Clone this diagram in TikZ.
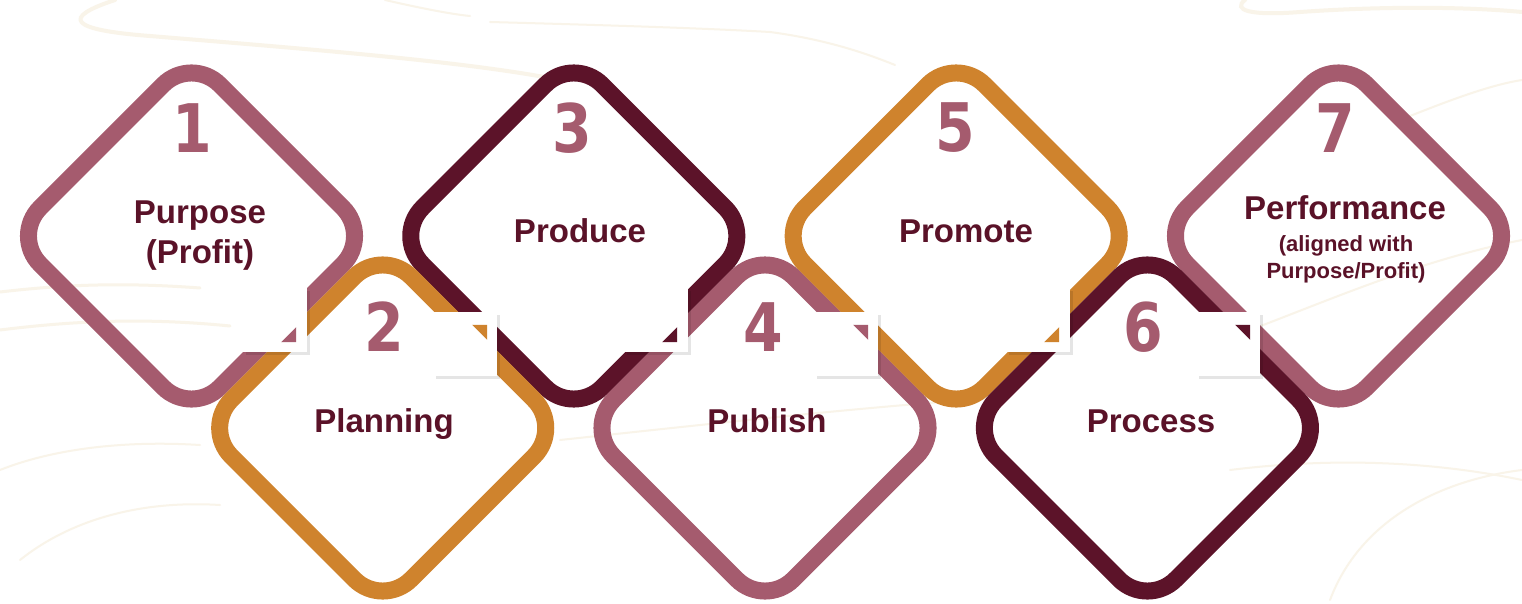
\documentclass[tikz,border=0pt]{standalone}
\usepackage{fontspec}
\setmainfont{Liberation Sans}
\newfontfamily\numfont{DejaVu Sans}
\usetikzlibrary{shadows}
\definecolor{mauve}{RGB}{165,91,110}
\definecolor{maroon}{RGB}{92,19,41}
\definecolor{ochre}{RGB}{207,131,45}
\definecolor{txt}{RGB}{90,18,40}
\definecolor{cream}{RGB}{249,244,233}
\tikzset{
  dia/.style={draw=#1, shape=rectangle, line width=17pt, rounded corners=40pt,
    minimum width=254pt, minimum height=254pt, rotate=45, inner sep=0pt, outer sep=0pt},
  numtxt/.style={font=\numfont\bfseries\fontsize{67}{67}\selectfont, text=mauve, inner sep=0pt},
  lab/.style={font=\bfseries\fontsize{33}{40}\selectfont, text=txt, align=center, inner sep=0pt},
  sublab/.style={font=\bfseries\fontsize{22}{27}\selectfont, text=txt, align=center, inner sep=0pt},
  fold/.style={fill=white, shape=rectangle, minimum size=64pt, inner sep=0pt,
    drop shadow={shadow xshift=2.5pt, shadow yshift=-2.5pt, opacity=0.10, fill=black}},
  swirl/.style={draw=cream, line width=3pt, line cap=round}
}
\newcommand{\dg}[1]{\scalebox{0.85}[1]{#1}}
\begin{document}
\begin{tikzpicture}[x=1pt,y=-1pt]
\useasboundingbox (0,0) rectangle (1522,604);
\fill[white] (0,0) rectangle (1522,604);
% faint background swirls
\draw[swirl, line width=4pt] (115,0) .. controls (60,18) and (70,30) .. (150,36) .. controls (320,50) and (470,62) .. (560,80);
\draw[swirl, line width=2pt] (385,0) .. controls (420,8) and (450,14) .. (470,16);
\draw[swirl, line width=2pt] (490,22) .. controls (600,25) and (700,28) .. (770,32) .. controls (830,40) and (870,55) .. (895,65);
\draw[swirl, line width=4pt] (1245,0) .. controls (1232,10) and (1250,16) .. (1300,12) .. controls (1400,5) and (1480,8) .. (1522,12);
\draw[swirl] (0,292) .. controls (60,285) and (120,282) .. (200,288);
\draw[swirl] (0,330) .. controls (80,320) and (150,318) .. (230,326);
\draw[swirl, line width=2pt] (0,470) .. controls (50,450) and (120,440) .. (200,445);
\draw[swirl, line width=2pt] (20,560) .. controls (70,520) and (140,500) .. (220,505);
\draw[swirl, line width=2pt] (560,440) .. controls (700,425) and (880,405) .. (1000,398);
\draw[swirl, line width=2pt] (1230,470) .. controls (1350,455) and (1450,465) .. (1522,480);
\draw[swirl, line width=2pt] (1330,600) .. controls (1360,520) and (1440,480) .. (1522,470);
\draw[swirl, line width=2pt] (1250,330) .. controls (1330,300) and (1420,260) .. (1522,240);
\draw[swirl, line width=2pt] (1400,120) .. controls (1450,100) and (1490,85) .. (1522,80);
% diamonds
\node[dia=mauve]  (d1) at (191.5,236) {};
\node[dia=maroon] (d3) at (573.8,236) {};
\node[dia=ochre]  (d5) at (956.2,236) {};
\node[dia=mauve]  (d7) at (1338.5,236) {};
\node[dia=ochre]  (d2) at (382.7,428) {};
\node[dia=mauve]  (d4) at (765.0,428) {};
\node[dia=maroon] (d6) at (1147.4,428) {};
% folded corners
\node[fold] (f12) at (275,320) {};
\node[fold] (f23) at (465,344) {};
\node[fold] (f34) at (656,320) {};
\node[fold] (f45) at (846,344) {};
\node[fold] (f56) at (1038,320) {};
\node[fold] (f67) at (1228,344) {};
\fill[mauve]  ([shift={(-26,-10)}]f12.south east) -- ([shift={(-11,-10)}]f12.south east) -- ([shift={(-11,-25)}]f12.south east) -- cycle;
\fill[maroon] ([shift={(-26,-10)}]f34.south east) -- ([shift={(-11,-10)}]f34.south east) -- ([shift={(-11,-25)}]f34.south east) -- cycle;
\fill[ochre]  ([shift={(-26,-10)}]f56.south east) -- ([shift={(-11,-10)}]f56.south east) -- ([shift={(-11,-25)}]f56.south east) -- cycle;
\fill[ochre]  ([shift={(-25,13)}]f23.north east) -- ([shift={(-10,13)}]f23.north east) -- ([shift={(-10,28)}]f23.north east) -- cycle;
\fill[mauve]  ([shift={(-25,13)}]f45.north east) -- ([shift={(-10,13)}]f45.north east) -- ([shift={(-10,28)}]f45.north east) -- cycle;
\fill[maroon] ([shift={(-25,13)}]f67.north east) -- ([shift={(-10,13)}]f67.north east) -- ([shift={(-10,28)}]f67.north east) -- cycle;
% numbers
\node[numtxt] (n1) at (192,128) {\dg{1}};
\node[numtxt] (n3) at (572,128) {\dg{3}};
\node[numtxt] (n5) at (955,128) {\dg{5}};
\node[numtxt] (n7) at (1335,128) {\dg{7}};
\node[numtxt] (n2) at (384,327) {\dg{2}};
\node[numtxt] (n4) at (763,327) {\dg{4}};
\node[numtxt] (n6) at (1143,327) {\dg{6}};
% labels
\node[lab] (t1) at (200,236) {Purpose\\(Profit)};
\node[lab] (t3) at (580,231) {Produce};
\node[lab] (t5) at (966,231) {Promote};
\node[lab] (t7) at (1345,208) {Performance};
\node[sublab] (s7) at (1346,259) {(aligned with\\Purpose/Profit)};
\node[lab] (t2) at (384,424.5) {Planning};
\node[lab] (t4) at (767,421) {Publish};
\node[lab] (t6) at (1151,421) {Process};
\end{tikzpicture}
\end{document}
